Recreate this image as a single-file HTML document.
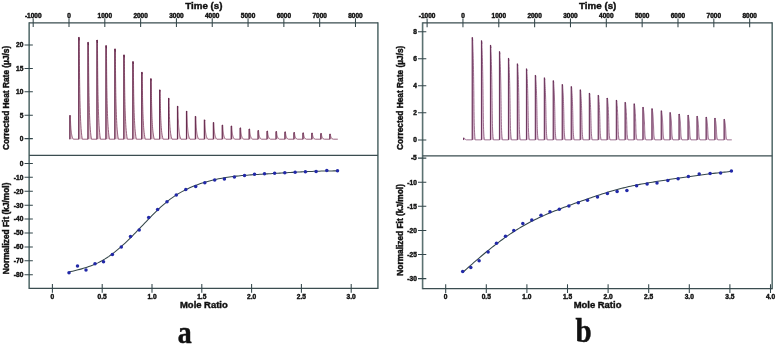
<!DOCTYPE html>
<html><head><meta charset="utf-8"><style>
html,body{margin:0;padding:0;background:#fff;}
body{width:779px;height:346px;overflow:hidden;}
svg{display:block;filter:blur(0.35px);}
text{font-family:"Liberation Sans", sans-serif;font-weight:bold;fill:#111;stroke:#111;stroke-width:0.42px;}
</style></head><body>
<svg width="779" height="346" viewBox="0 0 779 346">
<rect width="779" height="346" fill="#fff"/>
<path d="M29.15,22.15 L29.15,289.0 M377.9,22.15 L377.9,289.0" fill="none" stroke="#5b7171" stroke-width="1.6"/>
<path d="M29.15,22.75 L377.9,22.75 M29.15,155.4 L377.9,155.4 M29.15,288.4 L377.9,288.4" fill="none" stroke="#3b4d50" stroke-width="1.25"/>
<text x="33.19" y="18.30" font-size="6.5" text-anchor="middle" >-1000</text>
<text x="69.00" y="18.30" font-size="6.5" text-anchor="middle" >0</text>
<text x="104.81" y="18.30" font-size="6.5" text-anchor="middle" >1000</text>
<text x="140.62" y="18.30" font-size="6.5" text-anchor="middle" >2000</text>
<text x="176.43" y="18.30" font-size="6.5" text-anchor="middle" >3000</text>
<text x="212.24" y="18.30" font-size="6.5" text-anchor="middle" >4000</text>
<text x="248.05" y="18.30" font-size="6.5" text-anchor="middle" >5000</text>
<text x="283.86" y="18.30" font-size="6.5" text-anchor="middle" >6000</text>
<text x="319.67" y="18.30" font-size="6.5" text-anchor="middle" >7000</text>
<text x="355.48" y="18.30" font-size="6.5" text-anchor="middle" >8000</text>
<text x="23.35" y="140.95" font-size="6.6" text-anchor="end" >0</text>
<text x="23.35" y="117.55" font-size="6.6" text-anchor="end" >5</text>
<text x="23.35" y="94.15" font-size="6.6" text-anchor="end" >10</text>
<text x="23.35" y="70.75" font-size="6.6" text-anchor="end" >15</text>
<text x="23.35" y="47.35" font-size="6.6" text-anchor="end" >20</text>
<text x="23.35" y="165.75" font-size="6.6" text-anchor="end" >0</text>
<text x="23.35" y="179.67" font-size="6.6" text-anchor="end" >-10</text>
<text x="23.35" y="193.59" font-size="6.6" text-anchor="end" >-20</text>
<text x="23.35" y="207.51" font-size="6.6" text-anchor="end" >-30</text>
<text x="23.35" y="221.43" font-size="6.6" text-anchor="end" >-40</text>
<text x="23.35" y="235.35" font-size="6.6" text-anchor="end" >-50</text>
<text x="23.35" y="249.27" font-size="6.6" text-anchor="end" >-60</text>
<text x="23.35" y="263.19" font-size="6.6" text-anchor="end" >-70</text>
<text x="23.35" y="277.11" font-size="6.6" text-anchor="end" >-80</text>
<text x="52.40" y="298.60" font-size="6.6" text-anchor="middle" >0</text>
<text x="102.20" y="298.60" font-size="6.6" text-anchor="middle" >0.5</text>
<text x="152.00" y="298.60" font-size="6.6" text-anchor="middle" >1.0</text>
<text x="201.80" y="298.60" font-size="6.6" text-anchor="middle" >1.5</text>
<text x="251.60" y="298.60" font-size="6.6" text-anchor="middle" >2.0</text>
<text x="301.40" y="298.60" font-size="6.6" text-anchor="middle" >2.5</text>
<text x="351.20" y="298.60" font-size="6.6" text-anchor="middle" >3.0</text>
<path d="M33.19,18.35 L33.19,27.05 M69.00,18.35 L69.00,27.05 M104.81,18.35 L104.81,27.05 M140.62,18.35 L140.62,27.05 M176.43,18.35 L176.43,27.05 M212.24,18.35 L212.24,27.05 M248.05,18.35 L248.05,27.05 M283.86,18.35 L283.86,27.05 M319.67,18.35 L319.67,27.05 M355.48,18.35 L355.48,27.05 M24.549999999999997,138.60 L32.85,138.60 M24.549999999999997,115.20 L32.85,115.20 M24.549999999999997,91.80 L32.85,91.80 M24.549999999999997,68.40 L32.85,68.40 M24.549999999999997,45.00 L32.85,45.00 M24.549999999999997,163.40 L32.85,163.40 M24.549999999999997,177.32 L32.85,177.32 M24.549999999999997,191.24 L32.85,191.24 M24.549999999999997,205.16 L32.85,205.16 M24.549999999999997,219.08 L32.85,219.08 M24.549999999999997,233.00 L32.85,233.00 M24.549999999999997,246.92 L32.85,246.92 M24.549999999999997,260.84 L32.85,260.84 M24.549999999999997,274.76 L32.85,274.76 M52.40,284.09999999999997 L52.40,292.7 M102.20,284.09999999999997 L102.20,292.7 M152.00,284.09999999999997 L152.00,292.7 M201.80,284.09999999999997 L201.80,292.7 M251.60,284.09999999999997 L251.60,292.7 M301.40,284.09999999999997 L301.40,292.7 M351.20,284.09999999999997 L351.20,292.7" fill="none" stroke="#33464a" stroke-width="1.05"/>
<text x="185.30" y="9.10" font-size="9.75" text-anchor="start" >Time (s)</text>
<text x="180.00" y="307.70" font-size="9.45" text-anchor="start" >Mole Ratio</text>
<text x="0" y="0" font-size="8.33" text-anchor="middle" transform="translate(9.4,97.9) rotate(-90)">Corrected Heat Rate (µJ/s)</text>
<text x="0" y="0" font-size="8.33" text-anchor="middle" transform="translate(9.0,228.4) rotate(-90)">Normalized Fit (kJ/mol)</text>
<text x="0" y="0" style="font-family:'Liberation Serif', serif;font-weight:bold;font-size:31px;stroke-width:0.5px" transform="translate(177.8,342.8) scale(0.9,1)">a</text>
<path d="M69.65,139.20 L69.85,139.20 L69.85,115.50 L70.35,115.50 L70.37,116.32 L70.39,117.13 L70.41,117.95 L70.44,118.77 L70.46,119.59 L70.49,120.40 L70.52,121.22 L70.55,122.04 L70.58,122.86 L70.62,123.67 L70.66,124.49 L70.70,125.31 L70.75,126.12 L70.81,126.94 L70.87,127.76 L70.93,128.58 L71.01,129.39 L71.08,130.21 L71.17,131.03 L71.27,131.84 L71.37,132.66 L71.49,133.48 L71.63,134.30 L71.79,135.11 L71.98,135.93 L72.21,136.75 L72.50,137.57 L72.87,138.38 L73.35,139.20 L78.75,139.20 L78.75,37.30 L79.25,37.30 L79.27,40.81 L79.29,44.33 L79.31,47.84 L79.34,51.36 L79.36,54.87 L79.39,58.38 L79.42,61.90 L79.45,65.41 L79.48,68.92 L79.52,72.44 L79.56,75.95 L79.60,79.47 L79.65,82.98 L79.71,86.49 L79.77,90.01 L79.83,93.52 L79.91,97.03 L79.98,100.55 L80.07,104.06 L80.17,107.58 L80.27,111.09 L80.39,114.60 L80.53,118.12 L80.69,121.63 L80.88,125.14 L81.11,128.66 L81.40,132.17 L81.77,135.69 L82.25,139.20 L87.95,139.20 L87.95,42.30 L88.45,42.30 L88.47,45.64 L88.49,48.98 L88.51,52.32 L88.54,55.67 L88.56,59.01 L88.59,62.35 L88.62,65.69 L88.65,69.03 L88.68,72.37 L88.72,75.71 L88.76,79.06 L88.80,82.40 L88.85,85.74 L88.91,89.08 L88.97,92.42 L89.03,95.76 L89.11,99.10 L89.18,102.44 L89.27,105.79 L89.37,109.13 L89.47,112.47 L89.59,115.81 L89.73,119.15 L89.89,122.49 L90.08,125.83 L90.31,129.18 L90.60,132.52 L90.97,135.86 L91.45,139.20 L96.95,139.20 L96.95,40.00 L97.45,40.00 L97.47,43.42 L97.49,46.84 L97.51,50.26 L97.54,53.68 L97.56,57.10 L97.59,60.52 L97.62,63.94 L97.65,67.37 L97.68,70.79 L97.72,74.21 L97.76,77.63 L97.80,81.05 L97.85,84.47 L97.91,87.89 L97.97,91.31 L98.03,94.73 L98.11,98.15 L98.18,101.57 L98.27,104.99 L98.37,108.41 L98.47,111.83 L98.59,115.26 L98.73,118.68 L98.89,122.10 L99.08,125.52 L99.31,128.94 L99.60,132.36 L99.97,135.78 L100.45,139.20 L105.95,139.20 L105.95,45.60 L106.45,45.60 L106.47,48.83 L106.49,52.06 L106.51,55.28 L106.54,58.51 L106.56,61.74 L106.59,64.97 L106.62,68.19 L106.65,71.42 L106.68,74.65 L106.72,77.88 L106.76,81.10 L106.80,84.33 L106.85,87.56 L106.91,90.79 L106.97,94.01 L107.03,97.24 L107.11,100.47 L107.18,103.70 L107.27,106.92 L107.37,110.15 L107.47,113.38 L107.59,116.61 L107.73,119.83 L107.89,123.06 L108.08,126.29 L108.31,129.52 L108.60,132.74 L108.97,135.97 L109.45,139.20 L114.85,139.20 L114.85,48.90 L115.35,48.90 L115.37,52.01 L115.39,55.13 L115.41,58.24 L115.44,61.36 L115.46,64.47 L115.49,67.58 L115.52,70.70 L115.55,73.81 L115.58,76.92 L115.62,80.04 L115.66,83.15 L115.70,86.27 L115.75,89.38 L115.81,92.49 L115.87,95.61 L115.93,98.72 L116.01,101.83 L116.08,104.95 L116.17,108.06 L116.27,111.18 L116.37,114.29 L116.49,117.40 L116.63,120.52 L116.79,123.63 L116.98,126.74 L117.21,129.86 L117.50,132.97 L117.87,136.09 L118.35,139.20 L123.85,139.20 L123.85,54.90 L124.35,54.90 L124.37,57.81 L124.39,60.71 L124.41,63.62 L124.44,66.53 L124.46,69.43 L124.49,72.34 L124.52,75.25 L124.55,78.16 L124.58,81.06 L124.62,83.97 L124.66,86.88 L124.70,89.78 L124.75,92.69 L124.81,95.60 L124.87,98.50 L124.93,101.41 L125.01,104.32 L125.08,107.22 L125.17,110.13 L125.27,113.04 L125.37,115.94 L125.49,118.85 L125.63,121.76 L125.79,124.67 L125.98,127.57 L126.21,130.48 L126.50,133.39 L126.87,136.29 L127.35,139.20 L132.85,139.20 L132.85,61.60 L133.35,61.60 L133.37,64.28 L133.39,66.95 L133.41,69.63 L133.44,72.30 L133.46,74.98 L133.49,77.66 L133.52,80.33 L133.55,83.01 L133.58,85.68 L133.62,88.36 L133.66,91.03 L133.70,93.71 L133.75,96.39 L133.81,99.06 L133.87,101.74 L133.93,104.41 L134.01,107.09 L134.08,109.77 L134.17,112.44 L134.27,115.12 L134.37,117.79 L134.49,120.47 L134.63,123.14 L134.79,125.82 L134.98,128.50 L135.21,131.17 L135.50,133.85 L135.87,136.52 L136.35,139.20 L141.75,139.20 L141.75,72.20 L142.25,72.20 L142.27,74.51 L142.29,76.82 L142.31,79.13 L142.34,81.44 L142.36,83.75 L142.39,86.06 L142.42,88.37 L142.45,90.68 L142.48,92.99 L142.52,95.30 L142.56,97.61 L142.60,99.92 L142.65,102.23 L142.71,104.54 L142.77,106.86 L142.83,109.17 L142.91,111.48 L142.98,113.79 L143.07,116.10 L143.17,118.41 L143.27,120.72 L143.39,123.03 L143.53,125.34 L143.69,127.65 L143.88,129.96 L144.11,132.27 L144.40,134.58 L144.77,136.89 L145.25,139.20 L150.75,139.20 L150.75,78.70 L151.25,78.70 L151.27,80.79 L151.29,82.87 L151.31,84.96 L151.34,87.04 L151.36,89.13 L151.39,91.22 L151.42,93.30 L151.45,95.39 L151.48,97.48 L151.52,99.56 L151.56,101.65 L151.60,103.73 L151.65,105.82 L151.71,107.91 L151.77,109.99 L151.83,112.08 L151.91,114.17 L151.98,116.25 L152.07,118.34 L152.17,120.42 L152.27,122.51 L152.39,124.60 L152.53,126.68 L152.69,128.77 L152.88,130.86 L153.11,132.94 L153.40,135.03 L153.77,137.11 L154.25,139.20 L159.65,139.20 L159.65,89.90 L160.15,89.90 L160.17,91.60 L160.19,93.30 L160.21,95.00 L160.24,96.70 L160.26,98.40 L160.29,100.10 L160.32,101.80 L160.35,103.50 L160.38,105.20 L160.42,106.90 L160.46,108.60 L160.50,110.30 L160.55,112.00 L160.61,113.70 L160.67,115.40 L160.73,117.10 L160.81,118.80 L160.88,120.50 L160.97,122.20 L161.07,123.90 L161.17,125.60 L161.29,127.30 L161.43,129.00 L161.59,130.70 L161.78,132.40 L162.01,134.10 L162.30,135.80 L162.67,137.50 L163.15,139.20 L168.55,139.20 L168.55,98.20 L169.05,98.20 L169.07,99.61 L169.09,101.03 L169.11,102.44 L169.14,103.86 L169.16,105.27 L169.19,106.68 L169.22,108.10 L169.25,109.51 L169.28,110.92 L169.32,112.34 L169.36,113.75 L169.40,115.17 L169.45,116.58 L169.51,117.99 L169.57,119.41 L169.63,120.82 L169.71,122.23 L169.78,123.65 L169.87,125.06 L169.97,126.48 L170.07,127.89 L170.19,129.30 L170.33,130.72 L170.49,132.13 L170.68,133.54 L170.91,134.96 L171.20,136.37 L171.57,137.79 L172.05,139.20 L177.45,139.20 L177.45,106.20 L177.95,106.20 L177.97,107.34 L177.99,108.48 L178.01,109.61 L178.04,110.75 L178.06,111.89 L178.09,113.03 L178.12,114.17 L178.15,115.30 L178.18,116.44 L178.22,117.58 L178.26,118.72 L178.30,119.86 L178.35,120.99 L178.41,122.13 L178.47,123.27 L178.53,124.41 L178.61,125.54 L178.68,126.68 L178.77,127.82 L178.87,128.96 L178.97,130.10 L179.09,131.23 L179.23,132.37 L179.39,133.51 L179.58,134.65 L179.81,135.79 L180.10,136.92 L180.47,138.06 L180.95,139.20 L186.45,139.20 L186.45,111.20 L186.95,111.20 L186.97,112.17 L186.99,113.13 L187.01,114.10 L187.04,115.06 L187.06,116.03 L187.09,116.99 L187.12,117.96 L187.15,118.92 L187.18,119.89 L187.22,120.86 L187.26,121.82 L187.30,122.79 L187.35,123.75 L187.41,124.72 L187.47,125.68 L187.53,126.65 L187.61,127.61 L187.68,128.58 L187.77,129.54 L187.87,130.51 L187.97,131.48 L188.09,132.44 L188.23,133.41 L188.39,134.37 L188.58,135.34 L188.81,136.30 L189.10,137.27 L189.47,138.23 L189.95,139.20 L195.35,139.20 L195.35,116.40 L195.85,116.40 L195.87,117.19 L195.89,117.97 L195.91,118.76 L195.94,119.54 L195.96,120.33 L195.99,121.12 L196.02,121.90 L196.05,122.69 L196.08,123.48 L196.12,124.26 L196.16,125.05 L196.20,125.83 L196.25,126.62 L196.31,127.41 L196.37,128.19 L196.43,128.98 L196.51,129.77 L196.58,130.55 L196.67,131.34 L196.77,132.12 L196.87,132.91 L196.99,133.70 L197.13,134.48 L197.29,135.27 L197.48,136.06 L197.71,136.84 L198.00,137.63 L198.37,138.41 L198.85,139.20 L204.35,139.20 L204.35,119.90 L204.85,119.90 L204.87,120.57 L204.89,121.23 L204.91,121.90 L204.94,122.56 L204.96,123.23 L204.99,123.89 L205.02,124.56 L205.05,125.22 L205.08,125.89 L205.12,126.56 L205.16,127.22 L205.20,127.89 L205.25,128.55 L205.31,129.22 L205.37,129.88 L205.43,130.55 L205.51,131.21 L205.58,131.88 L205.67,132.54 L205.77,133.21 L205.87,133.88 L205.99,134.54 L206.13,135.21 L206.29,135.87 L206.48,136.54 L206.71,137.20 L207.00,137.87 L207.37,138.53 L207.85,139.20 L213.35,139.20 L213.35,122.50 L213.85,122.50 L213.87,123.08 L213.89,123.65 L213.91,124.23 L213.94,124.80 L213.96,125.38 L213.99,125.96 L214.02,126.53 L214.05,127.11 L214.08,127.68 L214.12,128.26 L214.16,128.83 L214.20,129.41 L214.25,129.99 L214.31,130.56 L214.37,131.14 L214.43,131.71 L214.51,132.29 L214.58,132.87 L214.67,133.44 L214.77,134.02 L214.87,134.59 L214.99,135.17 L215.13,135.74 L215.29,136.32 L215.48,136.90 L215.71,137.47 L216.00,138.05 L216.37,138.62 L216.85,139.20 L222.25,139.20 L222.25,125.10 L222.75,125.10 L222.77,125.59 L222.79,126.07 L222.81,126.56 L222.84,127.04 L222.86,127.53 L222.89,128.02 L222.92,128.50 L222.95,128.99 L222.98,129.48 L223.02,129.96 L223.06,130.45 L223.10,130.93 L223.15,131.42 L223.21,131.91 L223.27,132.39 L223.33,132.88 L223.41,133.37 L223.48,133.85 L223.57,134.34 L223.67,134.82 L223.77,135.31 L223.89,135.80 L224.03,136.28 L224.19,136.77 L224.38,137.26 L224.61,137.74 L224.90,138.23 L225.27,138.71 L225.75,139.20 L231.25,139.20 L231.25,126.00 L231.75,126.00 L231.77,126.46 L231.79,126.91 L231.81,127.37 L231.84,127.82 L231.86,128.28 L231.89,128.73 L231.92,129.19 L231.95,129.64 L231.98,130.10 L232.02,130.55 L232.06,131.01 L232.10,131.46 L232.15,131.92 L232.21,132.37 L232.27,132.83 L232.33,133.28 L232.41,133.74 L232.48,134.19 L232.57,134.65 L232.67,135.10 L232.77,135.56 L232.89,136.01 L233.03,136.47 L233.19,136.92 L233.38,137.38 L233.61,137.83 L233.90,138.29 L234.27,138.74 L234.75,139.20 L240.15,139.20 L240.15,127.90 L240.65,127.90 L240.67,128.29 L240.69,128.68 L240.71,129.07 L240.74,129.46 L240.76,129.85 L240.79,130.24 L240.82,130.63 L240.85,131.02 L240.88,131.41 L240.92,131.80 L240.96,132.19 L241.00,132.58 L241.05,132.97 L241.11,133.36 L241.17,133.74 L241.23,134.13 L241.31,134.52 L241.38,134.91 L241.47,135.30 L241.57,135.69 L241.67,136.08 L241.79,136.47 L241.93,136.86 L242.09,137.25 L242.28,137.64 L242.51,138.03 L242.80,138.42 L243.17,138.81 L243.65,139.20 L249.15,139.20 L249.15,129.00 L249.65,129.00 L249.67,129.35 L249.69,129.70 L249.71,130.06 L249.74,130.41 L249.76,130.76 L249.79,131.11 L249.82,131.46 L249.85,131.81 L249.88,132.17 L249.92,132.52 L249.96,132.87 L250.00,133.22 L250.05,133.57 L250.11,133.92 L250.17,134.28 L250.23,134.63 L250.31,134.98 L250.38,135.33 L250.47,135.68 L250.57,136.03 L250.67,136.39 L250.79,136.74 L250.93,137.09 L251.09,137.44 L251.28,137.79 L251.51,138.14 L251.80,138.50 L252.17,138.85 L252.65,139.20 L258.05,139.20 L258.05,130.50 L258.55,130.50 L258.57,130.80 L258.59,131.10 L258.61,131.40 L258.64,131.70 L258.66,132.00 L258.69,132.30 L258.72,132.60 L258.75,132.90 L258.78,133.20 L258.82,133.50 L258.86,133.80 L258.90,134.10 L258.95,134.40 L259.01,134.70 L259.07,135.00 L259.13,135.30 L259.21,135.60 L259.28,135.90 L259.37,136.20 L259.47,136.50 L259.57,136.80 L259.69,137.10 L259.83,137.40 L259.99,137.70 L260.18,138.00 L260.41,138.30 L260.70,138.60 L261.07,138.90 L261.55,139.20 L267.05,139.20 L267.05,131.10 L267.55,131.10 L267.57,131.38 L267.59,131.66 L267.61,131.94 L267.64,132.22 L267.66,132.50 L267.69,132.78 L267.72,133.06 L267.75,133.33 L267.78,133.61 L267.82,133.89 L267.86,134.17 L267.90,134.45 L267.95,134.73 L268.01,135.01 L268.07,135.29 L268.13,135.57 L268.21,135.85 L268.28,136.13 L268.37,136.41 L268.47,136.69 L268.57,136.97 L268.69,137.24 L268.83,137.52 L268.99,137.80 L269.18,138.08 L269.41,138.36 L269.70,138.64 L270.07,138.92 L270.55,139.20 L276.05,139.20 L276.05,131.50 L276.55,131.50 L276.57,131.77 L276.59,132.03 L276.61,132.30 L276.64,132.56 L276.66,132.83 L276.69,133.09 L276.72,133.36 L276.75,133.62 L276.78,133.89 L276.82,134.16 L276.86,134.42 L276.90,134.69 L276.95,134.95 L277.01,135.22 L277.07,135.48 L277.13,135.75 L277.21,136.01 L277.28,136.28 L277.37,136.54 L277.47,136.81 L277.57,137.08 L277.69,137.34 L277.83,137.61 L277.99,137.87 L278.18,138.14 L278.41,138.40 L278.70,138.67 L279.07,138.93 L279.55,139.20 L284.95,139.20 L284.95,131.90 L285.45,131.90 L285.47,132.15 L285.49,132.40 L285.51,132.66 L285.54,132.91 L285.56,133.16 L285.59,133.41 L285.62,133.66 L285.65,133.91 L285.68,134.17 L285.72,134.42 L285.76,134.67 L285.80,134.92 L285.85,135.17 L285.91,135.42 L285.97,135.68 L286.03,135.93 L286.11,136.18 L286.18,136.43 L286.27,136.68 L286.37,136.93 L286.47,137.19 L286.59,137.44 L286.73,137.69 L286.89,137.94 L287.08,138.19 L287.31,138.44 L287.60,138.70 L287.97,138.95 L288.45,139.20 L293.95,139.20 L293.95,132.50 L294.45,132.50 L294.47,132.73 L294.49,132.96 L294.51,133.19 L294.54,133.42 L294.56,133.66 L294.59,133.89 L294.62,134.12 L294.65,134.35 L294.68,134.58 L294.72,134.81 L294.76,135.04 L294.80,135.27 L294.85,135.50 L294.91,135.73 L294.97,135.97 L295.03,136.20 L295.11,136.43 L295.18,136.66 L295.27,136.89 L295.37,137.12 L295.47,137.35 L295.59,137.58 L295.73,137.81 L295.89,138.04 L296.08,138.28 L296.31,138.51 L296.60,138.74 L296.97,138.97 L297.45,139.20 L302.95,139.20 L302.95,132.90 L303.45,132.90 L303.47,133.12 L303.49,133.33 L303.51,133.55 L303.54,133.77 L303.56,133.99 L303.59,134.20 L303.62,134.42 L303.65,134.64 L303.68,134.86 L303.72,135.07 L303.76,135.29 L303.80,135.51 L303.85,135.72 L303.91,135.94 L303.97,136.16 L304.03,136.38 L304.11,136.59 L304.18,136.81 L304.27,137.03 L304.37,137.24 L304.47,137.46 L304.59,137.68 L304.73,137.90 L304.89,138.11 L305.08,138.33 L305.31,138.55 L305.60,138.77 L305.97,138.98 L306.45,139.20 L311.85,139.20 L311.85,133.10 L312.35,133.10 L312.37,133.31 L312.39,133.52 L312.41,133.73 L312.44,133.94 L312.46,134.15 L312.49,134.36 L312.52,134.57 L312.55,134.78 L312.58,134.99 L312.62,135.20 L312.66,135.41 L312.70,135.62 L312.75,135.83 L312.81,136.04 L312.87,136.26 L312.93,136.47 L313.01,136.68 L313.08,136.89 L313.17,137.10 L313.27,137.31 L313.37,137.52 L313.49,137.73 L313.63,137.94 L313.79,138.15 L313.98,138.36 L314.21,138.57 L314.50,138.78 L314.87,138.99 L315.35,139.20 L320.85,139.20 L320.85,133.50 L321.35,133.50 L321.37,133.70 L321.39,133.89 L321.41,134.09 L321.44,134.29 L321.46,134.48 L321.49,134.68 L321.52,134.88 L321.55,135.07 L321.58,135.27 L321.62,135.47 L321.66,135.66 L321.70,135.86 L321.75,136.06 L321.81,136.25 L321.87,136.45 L321.93,136.64 L322.01,136.84 L322.08,137.04 L322.17,137.23 L322.27,137.43 L322.37,137.63 L322.49,137.82 L322.63,138.02 L322.79,138.22 L322.98,138.41 L323.21,138.61 L323.50,138.81 L323.87,139.00 L324.35,139.20 L329.85,139.20 L329.85,134.10 L330.35,134.10 L330.37,134.28 L330.39,134.45 L330.41,134.63 L330.44,134.80 L330.46,134.98 L330.49,135.16 L330.52,135.33 L330.55,135.51 L330.58,135.68 L330.62,135.86 L330.66,136.03 L330.70,136.21 L330.75,136.39 L330.81,136.56 L330.87,136.74 L330.93,136.91 L331.01,137.09 L331.08,137.27 L331.17,137.44 L331.27,137.62 L331.37,137.79 L331.49,137.97 L331.63,138.14 L331.79,138.32 L331.98,138.50 L332.21,138.67 L332.50,138.85 L332.87,139.02 L333.35,139.20 L337.80,139.20" fill="#dfc3cf" stroke="#8a4a6c" stroke-width="0.85" stroke-linejoin="round"/>
<path d="M69.85,139.20 L69.85,115.50 L70.37,116.21 M78.75,139.20 L78.75,37.30 L79.27,40.36 M87.95,139.20 L87.95,42.30 L88.47,45.21 M96.95,139.20 L96.95,40.00 L97.47,42.98 M105.95,139.20 L105.95,45.60 L106.47,48.41 M114.85,139.20 L114.85,48.90 L115.37,51.61 M123.85,139.20 L123.85,54.90 L124.37,57.43 M132.85,139.20 L132.85,61.60 L133.37,63.93 M141.75,139.20 L141.75,72.20 L142.27,74.21 M150.75,139.20 L150.75,78.70 L151.27,80.52 M159.65,139.20 L159.65,89.90 L160.17,91.38 M168.55,139.20 L168.55,98.20 L169.07,99.43 M177.45,139.20 L177.45,106.20 L177.97,107.19 M186.45,139.20 L186.45,111.20 L186.97,112.04 M195.35,139.20 L195.35,116.40 L195.87,117.08 M204.35,139.20 L204.35,119.90 L204.87,120.48 M213.35,139.20 L213.35,122.50 L213.87,123.00 M222.25,139.20 L222.25,125.10 L222.77,125.52 M231.25,139.20 L231.25,126.00 L231.77,126.40 M240.15,139.20 L240.15,127.90 L240.67,128.24 M249.15,139.20 L249.15,129.00 L249.67,129.31 M258.05,139.20 L258.05,130.50 L258.57,130.76 M267.05,139.20 L267.05,131.10 L267.57,131.34 M276.05,139.20 L276.05,131.50 L276.57,131.73 M284.95,139.20 L284.95,131.90 L285.47,132.12 M293.95,139.20 L293.95,132.50 L294.47,132.70 M302.95,139.20 L302.95,132.90 L303.47,133.09 M311.85,139.20 L311.85,133.10 L312.37,133.28 M320.85,139.20 L320.85,133.50 L321.37,133.67 M329.85,139.20 L329.85,134.10 L330.37,134.25" fill="none" stroke="#5e2246" stroke-width="0.9" stroke-linejoin="round"/>
<path d="M69.00,271.99 L70.80,271.58 L72.60,271.17 L74.40,270.74 L76.21,270.31 L78.01,269.85 L79.81,269.38 L81.61,268.88 L83.41,268.36 L85.21,267.81 L87.01,267.23 L88.81,266.61 L90.62,265.95 L92.42,265.25 L94.22,264.50 L96.02,263.71 L97.82,262.87 L99.62,261.97 L101.42,261.02 L103.23,260.00 L105.03,258.92 L106.83,257.78 L108.63,256.57 L110.43,255.30 L112.23,253.98 L114.03,252.60 L115.83,251.17 L117.64,249.68 L119.44,248.15 L121.24,246.58 L123.04,244.95 L124.84,243.29 L126.64,241.59 L128.44,239.85 L130.25,238.08 L132.05,236.28 L133.85,234.45 L135.65,232.60 L137.45,230.73 L139.25,228.84 L141.05,226.95 L142.86,225.06 L144.66,223.17 L146.46,221.28 L148.26,219.40 L150.06,217.54 L151.86,215.70 L153.66,213.88 L155.46,212.10 L157.27,210.35 L159.07,208.64 L160.87,206.97 L162.67,205.35 L164.47,203.78 L166.27,202.28 L168.07,200.83 L169.88,199.45 L171.68,198.13 L173.48,196.87 L175.28,195.67 L177.08,194.52 L178.88,193.42 L180.68,192.37 L182.48,191.38 L184.29,190.42 L186.09,189.52 L187.89,188.65 L189.69,187.83 L191.49,187.04 L193.29,186.29 L195.09,185.58 L196.90,184.89 L198.70,184.24 L200.50,183.62 L202.30,183.02 L204.10,182.46 L205.90,181.92 L207.70,181.41 L209.50,180.92 L211.31,180.46 L213.11,180.02 L214.91,179.61 L216.71,179.21 L218.51,178.84 L220.31,178.49 L222.11,178.16 L223.92,177.85 L225.72,177.56 L227.52,177.28 L229.32,177.03 L231.12,176.78 L232.92,176.55 L234.72,176.34 L236.52,176.14 L238.33,175.95 L240.13,175.77 L241.93,175.60 L243.73,175.44 L245.53,175.29 L247.33,175.15 L249.13,175.02 L250.94,174.89 L252.74,174.77 L254.54,174.65 L256.34,174.53 L258.14,174.42 L259.94,174.31 L261.74,174.21 L263.54,174.10 L265.35,173.99 L267.15,173.88 L268.95,173.77 L270.75,173.66 L272.55,173.55 L274.35,173.44 L276.15,173.33 L277.96,173.22 L279.76,173.11 L281.56,173.00 L283.36,172.89 L285.16,172.78 L286.96,172.68 L288.76,172.57 L290.57,172.47 L292.37,172.36 L294.17,172.26 L295.97,172.17 L297.77,172.07 L299.57,171.97 L301.37,171.88 L303.17,171.79 L304.98,171.71 L306.78,171.63 L308.58,171.55 L310.38,171.47 L312.18,171.40 L313.98,171.33 L315.78,171.27 L317.59,171.21 L319.39,171.15 L321.19,171.10 L322.99,171.05 L324.79,171.01 L326.59,170.97 L328.39,170.94 L330.19,170.92 L332.00,170.90 L333.80,170.88 L335.60,170.88 L337.40,170.87" fill="none" stroke="#34464a" stroke-width="1.05"/>
<g fill="#2229a8"><circle cx="69.0" cy="272.7" r="1.75"/><circle cx="77.5" cy="266.0" r="1.75"/><circle cx="86.0" cy="270.0" r="1.75"/><circle cx="95.0" cy="263.7" r="1.75"/><circle cx="103.5" cy="261.7" r="1.75"/><circle cx="112.4" cy="254.4" r="1.75"/><circle cx="121.3" cy="247.1" r="1.75"/><circle cx="130.5" cy="236.4" r="1.75"/><circle cx="139.2" cy="229.9" r="1.75"/><circle cx="148.7" cy="217.4" r="1.75"/><circle cx="157.6" cy="209.4" r="1.75"/><circle cx="167.0" cy="201.7" r="1.75"/><circle cx="176.3" cy="195.0" r="1.75"/><circle cx="185.8" cy="189.6" r="1.75"/><circle cx="195.7" cy="186.4" r="1.75"/><circle cx="204.8" cy="182.7" r="1.75"/><circle cx="214.7" cy="179.9" r="1.75"/><circle cx="224.4" cy="179.0" r="1.75"/><circle cx="234.4" cy="177.1" r="1.75"/><circle cx="244.5" cy="175.5" r="1.75"/><circle cx="254.5" cy="174.2" r="1.75"/><circle cx="264.5" cy="173.8" r="1.75"/><circle cx="274.6" cy="173.3" r="1.75"/><circle cx="284.8" cy="172.7" r="1.75"/><circle cx="295.1" cy="172.2" r="1.75"/><circle cx="305.4" cy="171.8" r="1.75"/><circle cx="316.1" cy="171.4" r="1.75"/><circle cx="326.8" cy="170.5" r="1.75"/><circle cx="337.5" cy="170.7" r="1.75"/></g>
<path d="M422.6,22.349999999999998 L422.6,289.20000000000005 M772.2,22.349999999999998 L772.2,289.20000000000005" fill="none" stroke="#5b7171" stroke-width="1.6"/>
<path d="M422.6,22.95 L772.2,22.95 M422.6,155.85 L772.2,155.85 M422.6,288.6 L772.2,288.6" fill="none" stroke="#3b4d50" stroke-width="1.25"/>
<text x="427.11" y="18.30" font-size="6.5" text-anchor="middle" >-1000</text>
<text x="462.95" y="18.30" font-size="6.5" text-anchor="middle" >0</text>
<text x="498.79" y="18.30" font-size="6.5" text-anchor="middle" >1000</text>
<text x="534.63" y="18.30" font-size="6.5" text-anchor="middle" >2000</text>
<text x="570.47" y="18.30" font-size="6.5" text-anchor="middle" >3000</text>
<text x="606.31" y="18.30" font-size="6.5" text-anchor="middle" >4000</text>
<text x="642.15" y="18.30" font-size="6.5" text-anchor="middle" >5000</text>
<text x="677.99" y="18.30" font-size="6.5" text-anchor="middle" >6000</text>
<text x="713.83" y="18.30" font-size="6.5" text-anchor="middle" >7000</text>
<text x="749.67" y="18.30" font-size="6.5" text-anchor="middle" >8000</text>
<text x="416.80" y="142.25" font-size="6.6" text-anchor="end" >0</text>
<text x="416.80" y="115.19" font-size="6.6" text-anchor="end" >2</text>
<text x="416.80" y="88.13" font-size="6.6" text-anchor="end" >4</text>
<text x="416.80" y="61.07" font-size="6.6" text-anchor="end" >6</text>
<text x="416.80" y="34.01" font-size="6.6" text-anchor="end" >8</text>
<text x="416.80" y="160.45" font-size="6.6" text-anchor="end" >-5</text>
<text x="416.80" y="184.55" font-size="6.6" text-anchor="end" >-10</text>
<text x="416.80" y="208.65" font-size="6.6" text-anchor="end" >-15</text>
<text x="416.80" y="232.75" font-size="6.6" text-anchor="end" >-20</text>
<text x="416.80" y="256.85" font-size="6.6" text-anchor="end" >-25</text>
<text x="416.80" y="280.95" font-size="6.6" text-anchor="end" >-30</text>
<text x="445.70" y="299.20" font-size="6.6" text-anchor="middle" >0</text>
<text x="486.30" y="299.20" font-size="6.6" text-anchor="middle" >0.5</text>
<text x="526.90" y="299.20" font-size="6.6" text-anchor="middle" >1.0</text>
<text x="567.50" y="299.20" font-size="6.6" text-anchor="middle" >1.5</text>
<text x="608.10" y="299.20" font-size="6.6" text-anchor="middle" >2.0</text>
<text x="648.70" y="299.20" font-size="6.6" text-anchor="middle" >2.5</text>
<text x="689.30" y="299.20" font-size="6.6" text-anchor="middle" >3.0</text>
<text x="729.90" y="299.20" font-size="6.6" text-anchor="middle" >3.5</text>
<text x="770.50" y="299.20" font-size="6.6" text-anchor="middle" >4.0</text>
<path d="M427.11,18.549999999999997 L427.11,27.25 M462.95,18.549999999999997 L462.95,27.25 M498.79,18.549999999999997 L498.79,27.25 M534.63,18.549999999999997 L534.63,27.25 M570.47,18.549999999999997 L570.47,27.25 M606.31,18.549999999999997 L606.31,27.25 M642.15,18.549999999999997 L642.15,27.25 M677.99,18.549999999999997 L677.99,27.25 M713.83,18.549999999999997 L713.83,27.25 M749.67,18.549999999999997 L749.67,27.25 M418.0,139.90 L426.3,139.90 M418.0,112.84 L426.3,112.84 M418.0,85.78 L426.3,85.78 M418.0,58.72 L426.3,58.72 M418.0,31.66 L426.3,31.66 M418.0,158.10 L426.3,158.10 M418.0,182.20 L426.3,182.20 M418.0,206.30 L426.3,206.30 M418.0,230.40 L426.3,230.40 M418.0,254.50 L426.3,254.50 M418.0,278.60 L426.3,278.60 M445.70,284.3 L445.70,292.90000000000003 M486.30,284.3 L486.30,292.90000000000003 M526.90,284.3 L526.90,292.90000000000003 M567.50,284.3 L567.50,292.90000000000003 M608.10,284.3 L608.10,292.90000000000003 M648.70,284.3 L648.70,292.90000000000003 M689.30,284.3 L689.30,292.90000000000003 M729.90,284.3 L729.90,292.90000000000003 M770.50,284.3 L770.50,292.90000000000003" fill="none" stroke="#33464a" stroke-width="1.05"/>
<text x="579.10" y="9.10" font-size="9.75" text-anchor="start" >Time (s)</text>
<text x="573.70" y="307.70" font-size="9.45" text-anchor="start" >Mole Ratio</text>
<text x="0" y="0" font-size="8.33" text-anchor="middle" transform="translate(403.2,97.8) rotate(-90)">Corrected Heat Rate (µJ/s)</text>
<text x="0" y="0" font-size="8.33" text-anchor="middle" transform="translate(403.2,229.9) rotate(-90)">Normalized Fit (kJ/mol)</text>
<text x="0" y="0" style="font-family:'Liberation Serif', serif;font-weight:bold;font-size:33px;stroke-width:0.5px" transform="translate(575.6,342.1) scale(0.88,1)">b</text>
<path d="M463.35,139.85 L463.55,139.85 L463.55,138.00 L463.85,138.00 L464.00,138.06 L464.13,138.13 L464.25,138.19 L464.36,138.26 L464.47,138.32 L464.56,138.38 L464.65,138.45 L464.72,138.51 L464.79,138.57 L464.86,138.64 L464.92,138.70 L464.97,138.77 L465.03,138.83 L465.07,138.89 L465.12,138.96 L465.16,139.02 L465.19,139.08 L465.23,139.15 L465.27,139.21 L465.30,139.28 L465.34,139.34 L465.39,139.40 L465.44,139.47 L465.50,139.53 L465.59,139.59 L465.71,139.66 L465.88,139.72 L466.11,139.79 L466.45,139.85 L472.25,139.85 L472.25,37.50 L472.55,37.50 L472.70,41.03 L472.83,44.56 L472.95,48.09 L473.06,51.62 L473.17,55.15 L473.26,58.68 L473.35,62.21 L473.42,65.73 L473.49,69.26 L473.56,72.79 L473.62,76.32 L473.67,79.85 L473.73,83.38 L473.77,86.91 L473.82,90.44 L473.86,93.97 L473.89,97.50 L473.93,101.03 L473.97,104.56 L474.00,108.09 L474.04,111.62 L474.09,115.14 L474.14,118.67 L474.20,122.20 L474.29,125.73 L474.41,129.26 L474.58,132.79 L474.81,136.32 L475.15,139.85 L481.45,139.85 L481.45,40.70 L481.75,40.70 L481.90,44.12 L482.03,47.54 L482.15,50.96 L482.26,54.38 L482.37,57.79 L482.46,61.21 L482.55,64.63 L482.62,68.05 L482.69,71.47 L482.76,74.89 L482.82,78.31 L482.87,81.73 L482.93,85.15 L482.97,88.57 L483.02,91.98 L483.06,95.40 L483.09,98.82 L483.13,102.24 L483.17,105.66 L483.20,109.08 L483.24,112.50 L483.29,115.92 L483.34,119.34 L483.40,122.76 L483.49,126.17 L483.61,129.59 L483.78,133.01 L484.01,136.43 L484.35,139.85 L490.45,139.85 L490.45,45.10 L490.75,45.10 L490.90,48.37 L491.03,51.63 L491.15,54.90 L491.26,58.17 L491.37,61.44 L491.46,64.70 L491.55,67.97 L491.62,71.24 L491.69,74.51 L491.76,77.77 L491.82,81.04 L491.87,84.31 L491.93,87.57 L491.97,90.84 L492.02,94.11 L492.06,97.38 L492.09,100.64 L492.13,103.91 L492.17,107.18 L492.20,110.44 L492.24,113.71 L492.29,116.98 L492.34,120.25 L492.40,123.51 L492.49,126.78 L492.61,130.05 L492.78,133.32 L493.01,136.58 L493.35,139.85 L499.45,139.85 L499.45,51.60 L499.75,51.60 L499.90,54.64 L500.03,57.69 L500.15,60.73 L500.26,63.77 L500.37,66.82 L500.46,69.86 L500.55,72.90 L500.62,75.94 L500.69,78.99 L500.76,82.03 L500.82,85.07 L500.87,88.12 L500.93,91.16 L500.97,94.20 L501.02,97.25 L501.06,100.29 L501.09,103.33 L501.13,106.38 L501.17,109.42 L501.20,112.46 L501.24,115.51 L501.29,118.55 L501.34,121.59 L501.40,124.63 L501.49,127.68 L501.61,130.72 L501.78,133.76 L502.01,136.81 L502.35,139.85 L508.45,139.85 L508.45,58.20 L508.75,58.20 L508.90,61.02 L509.03,63.83 L509.15,66.65 L509.26,69.46 L509.37,72.28 L509.46,75.09 L509.55,77.91 L509.62,80.72 L509.69,83.54 L509.76,86.36 L509.82,89.17 L509.87,91.99 L509.93,94.80 L509.97,97.62 L510.02,100.43 L510.06,103.25 L510.09,106.06 L510.13,108.88 L510.17,111.69 L510.20,114.51 L510.24,117.33 L510.29,120.14 L510.34,122.96 L510.40,125.77 L510.49,128.59 L510.61,131.40 L510.78,134.22 L511.01,137.03 L511.35,139.85 L517.35,139.85 L517.35,63.80 L517.65,63.80 L517.80,66.42 L517.93,69.04 L518.05,71.67 L518.16,74.29 L518.27,76.91 L518.36,79.53 L518.45,82.16 L518.52,84.78 L518.59,87.40 L518.66,90.02 L518.72,92.65 L518.77,95.27 L518.83,97.89 L518.87,100.51 L518.92,103.14 L518.96,105.76 L518.99,108.38 L519.03,111.00 L519.07,113.63 L519.10,116.25 L519.14,118.87 L519.19,121.49 L519.24,124.12 L519.30,126.74 L519.39,129.36 L519.51,131.98 L519.68,134.61 L519.91,137.23 L520.25,139.85 L526.45,139.85 L526.45,68.80 L526.75,68.80 L526.90,71.25 L527.03,73.70 L527.15,76.15 L527.26,78.60 L527.37,81.05 L527.46,83.50 L527.55,85.95 L527.62,88.40 L527.69,90.85 L527.76,93.30 L527.82,95.75 L527.87,98.20 L527.93,100.65 L527.97,103.10 L528.02,105.55 L528.06,108.00 L528.09,110.45 L528.13,112.90 L528.17,115.35 L528.20,117.80 L528.24,120.25 L528.29,122.70 L528.34,125.15 L528.40,127.60 L528.49,130.05 L528.61,132.50 L528.78,134.95 L529.01,137.40 L529.35,139.85 L535.35,139.85 L535.35,75.30 L535.65,75.30 L535.80,77.53 L535.93,79.75 L536.05,81.98 L536.16,84.20 L536.27,86.43 L536.36,88.66 L536.45,90.88 L536.52,93.11 L536.59,95.33 L536.66,97.56 L536.72,99.78 L536.77,102.01 L536.83,104.24 L536.87,106.46 L536.92,108.69 L536.96,110.91 L536.99,113.14 L537.03,115.37 L537.07,117.59 L537.10,119.82 L537.14,122.04 L537.19,124.27 L537.24,126.49 L537.30,128.72 L537.39,130.95 L537.51,133.17 L537.68,135.40 L537.91,137.62 L538.25,139.85 L544.35,139.85 L544.35,77.80 L544.65,77.80 L544.80,79.94 L544.93,82.08 L545.05,84.22 L545.16,86.36 L545.27,88.50 L545.36,90.64 L545.45,92.78 L545.52,94.92 L545.59,97.06 L545.66,99.20 L545.72,101.34 L545.77,103.48 L545.83,105.62 L545.87,107.76 L545.92,109.89 L545.96,112.03 L545.99,114.17 L546.03,116.31 L546.07,118.45 L546.10,120.59 L546.14,122.73 L546.19,124.87 L546.24,127.01 L546.30,129.15 L546.39,131.29 L546.51,133.43 L546.68,135.57 L546.91,137.71 L547.25,139.85 L553.25,139.85 L553.25,80.70 L553.55,80.70 L553.70,82.74 L553.83,84.78 L553.95,86.82 L554.06,88.86 L554.17,90.90 L554.26,92.94 L554.35,94.98 L554.42,97.02 L554.49,99.06 L554.56,101.10 L554.62,103.14 L554.67,105.18 L554.73,107.22 L554.77,109.26 L554.82,111.29 L554.86,113.33 L554.89,115.37 L554.93,117.41 L554.97,119.45 L555.00,121.49 L555.04,123.53 L555.09,125.57 L555.14,127.61 L555.20,129.65 L555.29,131.69 L555.41,133.73 L555.58,135.77 L555.81,137.81 L556.15,139.85 L562.25,139.85 L562.25,84.50 L562.55,84.50 L562.70,86.41 L562.83,88.32 L562.95,90.23 L563.06,92.13 L563.17,94.04 L563.26,95.95 L563.35,97.86 L563.42,99.77 L563.49,101.68 L563.56,103.59 L563.62,105.49 L563.67,107.40 L563.73,109.31 L563.77,111.22 L563.82,113.13 L563.86,115.04 L563.89,116.95 L563.93,118.86 L563.97,120.76 L564.00,122.67 L564.04,124.58 L564.09,126.49 L564.14,128.40 L564.20,130.31 L564.29,132.22 L564.41,134.12 L564.58,136.03 L564.81,137.94 L565.15,139.85 L571.25,139.85 L571.25,86.60 L571.55,86.60 L571.70,88.44 L571.83,90.27 L571.95,92.11 L572.06,93.94 L572.17,95.78 L572.26,97.62 L572.35,99.45 L572.42,101.29 L572.49,103.13 L572.56,104.96 L572.62,106.80 L572.67,108.63 L572.73,110.47 L572.77,112.31 L572.82,114.14 L572.86,115.98 L572.89,117.82 L572.93,119.65 L572.97,121.49 L573.00,123.32 L573.04,125.16 L573.09,127.00 L573.14,128.83 L573.20,130.67 L573.29,132.51 L573.41,134.34 L573.58,136.18 L573.81,138.01 L574.15,139.85 L580.25,139.85 L580.25,89.80 L580.55,89.80 L580.70,91.53 L580.83,93.25 L580.95,94.98 L581.06,96.70 L581.17,98.43 L581.26,100.16 L581.35,101.88 L581.42,103.61 L581.49,105.33 L581.56,107.06 L581.62,108.78 L581.67,110.51 L581.73,112.24 L581.77,113.96 L581.82,115.69 L581.86,117.41 L581.89,119.14 L581.93,120.87 L581.97,122.59 L582.00,124.32 L582.04,126.04 L582.09,127.77 L582.14,129.49 L582.20,131.22 L582.29,132.95 L582.41,134.67 L582.58,136.40 L582.81,138.12 L583.15,139.85 L589.35,139.85 L589.35,93.10 L589.65,93.10 L589.80,94.71 L589.93,96.32 L590.05,97.94 L590.16,99.55 L590.27,101.16 L590.36,102.77 L590.45,104.38 L590.52,106.00 L590.59,107.61 L590.66,109.22 L590.72,110.83 L590.77,112.44 L590.83,114.06 L590.87,115.67 L590.92,117.28 L590.96,118.89 L590.99,120.51 L591.03,122.12 L591.07,123.73 L591.10,125.34 L591.14,126.95 L591.19,128.57 L591.24,130.18 L591.30,131.79 L591.39,133.40 L591.51,135.01 L591.68,136.63 L591.91,138.24 L592.25,139.85 L598.25,139.85 L598.25,95.30 L598.55,95.30 L598.70,96.84 L598.83,98.37 L598.95,99.91 L599.06,101.44 L599.17,102.98 L599.26,104.52 L599.35,106.05 L599.42,107.59 L599.49,109.13 L599.56,110.66 L599.62,112.20 L599.67,113.73 L599.73,115.27 L599.77,116.81 L599.82,118.34 L599.86,119.88 L599.89,121.42 L599.93,122.95 L599.97,124.49 L600.00,126.02 L600.04,127.56 L600.09,129.10 L600.14,130.63 L600.20,132.17 L600.29,133.71 L600.41,135.24 L600.58,136.78 L600.81,138.31 L601.15,139.85 L607.15,139.85 L607.15,98.00 L607.45,98.00 L607.60,99.44 L607.73,100.89 L607.85,102.33 L607.96,103.77 L608.07,105.22 L608.16,106.66 L608.25,108.10 L608.32,109.54 L608.39,110.99 L608.46,112.43 L608.52,113.87 L608.57,115.32 L608.63,116.76 L608.67,118.20 L608.72,119.65 L608.76,121.09 L608.79,122.53 L608.83,123.98 L608.87,125.42 L608.90,126.86 L608.94,128.31 L608.99,129.75 L609.04,131.19 L609.10,132.63 L609.19,134.08 L609.31,135.52 L609.48,136.96 L609.71,138.41 L610.05,139.85 L616.35,139.85 L616.35,100.10 L616.65,100.10 L616.80,101.47 L616.93,102.84 L617.05,104.21 L617.16,105.58 L617.27,106.95 L617.36,108.32 L617.45,109.69 L617.52,111.07 L617.59,112.44 L617.66,113.81 L617.72,115.18 L617.77,116.55 L617.83,117.92 L617.87,119.29 L617.92,120.66 L617.96,122.03 L617.99,123.40 L618.03,124.77 L618.07,126.14 L618.10,127.51 L618.14,128.88 L618.19,130.26 L618.24,131.63 L618.30,133.00 L618.39,134.37 L618.51,135.74 L618.68,137.11 L618.91,138.48 L619.25,139.85 L625.15,139.85 L625.15,102.40 L625.45,102.40 L625.60,103.69 L625.73,104.98 L625.85,106.27 L625.96,107.57 L626.07,108.86 L626.16,110.15 L626.25,111.44 L626.32,112.73 L626.39,114.02 L626.46,115.31 L626.52,116.61 L626.57,117.90 L626.63,119.19 L626.67,120.48 L626.72,121.77 L626.76,123.06 L626.79,124.35 L626.83,125.64 L626.87,126.94 L626.90,128.23 L626.94,129.52 L626.99,130.81 L627.04,132.10 L627.10,133.39 L627.19,134.68 L627.31,135.98 L627.48,137.27 L627.71,138.56 L628.05,139.85 L634.15,139.85 L634.15,103.80 L634.45,103.80 L634.60,105.04 L634.73,106.29 L634.85,107.53 L634.96,108.77 L635.07,110.02 L635.16,111.26 L635.25,112.50 L635.32,113.74 L635.39,114.99 L635.46,116.23 L635.52,117.47 L635.57,118.72 L635.63,119.96 L635.67,121.20 L635.72,122.45 L635.76,123.69 L635.79,124.93 L635.83,126.18 L635.87,127.42 L635.90,128.66 L635.94,129.91 L635.99,131.15 L636.04,132.39 L636.10,133.63 L636.19,134.88 L636.31,136.12 L636.48,137.36 L636.71,138.61 L637.05,139.85 L642.95,139.85 L642.95,107.30 L643.25,107.30 L643.40,108.42 L643.53,109.54 L643.65,110.67 L643.76,111.79 L643.87,112.91 L643.96,114.03 L644.05,115.16 L644.12,116.28 L644.19,117.40 L644.26,118.52 L644.32,119.65 L644.37,120.77 L644.43,121.89 L644.47,123.01 L644.52,124.14 L644.56,125.26 L644.59,126.38 L644.63,127.50 L644.67,128.63 L644.70,129.75 L644.74,130.87 L644.79,131.99 L644.84,133.12 L644.90,134.24 L644.99,135.36 L645.11,136.48 L645.28,137.61 L645.51,138.73 L645.85,139.85 L651.95,139.85 L651.95,108.70 L652.25,108.70 L652.40,109.77 L652.53,110.85 L652.65,111.92 L652.76,113.00 L652.87,114.07 L652.96,115.14 L653.05,116.22 L653.12,117.29 L653.19,118.37 L653.26,119.44 L653.32,120.52 L653.37,121.59 L653.43,122.66 L653.47,123.74 L653.52,124.81 L653.56,125.89 L653.59,126.96 L653.63,128.03 L653.67,129.11 L653.70,130.18 L653.74,131.26 L653.79,132.33 L653.84,133.41 L653.90,134.48 L653.99,135.55 L654.11,136.63 L654.28,137.70 L654.51,138.78 L654.85,139.85 L661.25,139.85 L661.25,110.80 L661.55,110.80 L661.70,111.80 L661.83,112.80 L661.95,113.81 L662.06,114.81 L662.17,115.81 L662.26,116.81 L662.35,117.81 L662.42,118.81 L662.49,119.82 L662.56,120.82 L662.62,121.82 L662.67,122.82 L662.73,123.82 L662.77,124.82 L662.82,125.83 L662.86,126.83 L662.89,127.83 L662.93,128.83 L662.97,129.83 L663.00,130.83 L663.04,131.84 L663.09,132.84 L663.14,133.84 L663.20,134.84 L663.29,135.84 L663.41,136.84 L663.58,137.85 L663.81,138.85 L664.15,139.85 L670.05,139.85 L670.05,112.60 L670.35,112.60 L670.50,113.54 L670.63,114.48 L670.75,115.42 L670.86,116.36 L670.97,117.30 L671.06,118.24 L671.15,119.18 L671.22,120.12 L671.29,121.06 L671.36,122.00 L671.42,122.94 L671.47,123.88 L671.53,124.82 L671.57,125.76 L671.62,126.69 L671.66,127.63 L671.69,128.57 L671.73,129.51 L671.77,130.45 L671.80,131.39 L671.84,132.33 L671.89,133.27 L671.94,134.21 L672.00,135.15 L672.09,136.09 L672.21,137.03 L672.38,137.97 L672.61,138.91 L672.95,139.85 L679.05,139.85 L679.05,114.00 L679.35,114.00 L679.50,114.89 L679.63,115.78 L679.75,116.67 L679.86,117.57 L679.97,118.46 L680.06,119.35 L680.15,120.24 L680.22,121.13 L680.29,122.02 L680.36,122.91 L680.42,123.81 L680.47,124.70 L680.53,125.59 L680.57,126.48 L680.62,127.37 L680.66,128.26 L680.69,129.15 L680.73,130.04 L680.77,130.94 L680.80,131.83 L680.84,132.72 L680.89,133.61 L680.94,134.50 L681.00,135.39 L681.09,136.28 L681.21,137.18 L681.38,138.07 L681.61,138.96 L681.95,139.85 L688.05,139.85 L688.05,115.20 L688.35,115.20 L688.50,116.05 L688.63,116.90 L688.75,117.75 L688.86,118.60 L688.97,119.45 L689.06,120.30 L689.15,121.15 L689.22,122.00 L689.29,122.85 L689.36,123.70 L689.42,124.55 L689.47,125.40 L689.53,126.25 L689.57,127.10 L689.62,127.95 L689.66,128.80 L689.69,129.65 L689.73,130.50 L689.77,131.35 L689.80,132.20 L689.84,133.05 L689.89,133.90 L689.94,134.75 L690.00,135.60 L690.09,136.45 L690.21,137.30 L690.38,138.15 L690.61,139.00 L690.95,139.85 L697.05,139.85 L697.05,116.30 L697.35,116.30 L697.50,117.11 L697.63,117.92 L697.75,118.74 L697.86,119.55 L697.97,120.36 L698.06,121.17 L698.15,121.98 L698.22,122.80 L698.29,123.61 L698.36,124.42 L698.42,125.23 L698.47,126.04 L698.53,126.86 L698.57,127.67 L698.62,128.48 L698.66,129.29 L698.69,130.11 L698.73,130.92 L698.77,131.73 L698.80,132.54 L698.84,133.35 L698.89,134.17 L698.94,134.98 L699.00,135.79 L699.09,136.60 L699.21,137.41 L699.38,138.23 L699.61,139.04 L699.95,139.85 L706.15,139.85 L706.15,117.00 L706.45,117.00 L706.60,117.79 L706.73,118.58 L706.85,119.36 L706.96,120.15 L707.07,120.94 L707.16,121.73 L707.25,122.52 L707.32,123.30 L707.39,124.09 L707.46,124.88 L707.52,125.67 L707.57,126.46 L707.63,127.24 L707.67,128.03 L707.72,128.82 L707.76,129.61 L707.79,130.39 L707.83,131.18 L707.87,131.97 L707.90,132.76 L707.94,133.55 L707.99,134.33 L708.04,135.12 L708.10,135.91 L708.19,136.70 L708.31,137.49 L708.48,138.27 L708.71,139.06 L709.05,139.85 L714.85,139.85 L714.85,118.20 L715.15,118.20 L715.30,118.95 L715.43,119.69 L715.55,120.44 L715.66,121.19 L715.77,121.93 L715.86,122.68 L715.95,123.43 L716.02,124.17 L716.09,124.92 L716.16,125.67 L716.22,126.41 L716.27,127.16 L716.33,127.91 L716.37,128.65 L716.42,129.40 L716.46,130.14 L716.49,130.89 L716.53,131.64 L716.57,132.38 L716.60,133.13 L716.64,133.88 L716.69,134.62 L716.74,135.37 L716.80,136.12 L716.89,136.86 L717.01,137.61 L717.18,138.36 L717.41,139.10 L717.75,139.85 L724.15,139.85 L724.15,119.30 L724.45,119.30 L724.60,120.01 L724.73,120.72 L724.85,121.43 L724.96,122.13 L725.07,122.84 L725.16,123.55 L725.25,124.26 L725.32,124.97 L725.39,125.68 L725.46,126.39 L725.52,127.09 L725.57,127.80 L725.63,128.51 L725.67,129.22 L725.72,129.93 L725.76,130.64 L725.79,131.35 L725.83,132.06 L725.87,132.76 L725.90,133.47 L725.94,134.18 L725.99,134.89 L726.04,135.60 L726.10,136.31 L726.19,137.02 L726.31,137.72 L726.48,138.43 L726.71,139.14 L727.05,139.85 L731.80,139.85" fill="#d8b8cf" stroke="#8e5a7e" stroke-width="0.85" stroke-linejoin="round"/>
<path d="M463.55,139.85 L463.55,138.00 L463.98,138.06 M472.25,139.85 L472.25,37.50 L472.68,40.57 M481.45,139.85 L481.45,40.70 L481.88,43.67 M490.45,139.85 L490.45,45.10 L490.88,47.94 M499.45,139.85 L499.45,51.60 L499.88,54.25 M508.45,139.85 L508.45,58.20 L508.88,60.65 M517.35,139.85 L517.35,63.80 L517.78,66.08 M526.45,139.85 L526.45,68.80 L526.88,70.93 M535.35,139.85 L535.35,75.30 L535.78,77.24 M544.35,139.85 L544.35,77.80 L544.78,79.66 M553.25,139.85 L553.25,80.70 L553.68,82.47 M562.25,139.85 L562.25,84.50 L562.68,86.16 M571.25,139.85 L571.25,86.60 L571.68,88.20 M580.25,139.85 L580.25,89.80 L580.68,91.30 M589.35,139.85 L589.35,93.10 L589.78,94.50 M598.25,139.85 L598.25,95.30 L598.68,96.64 M607.15,139.85 L607.15,98.00 L607.58,99.26 M616.35,139.85 L616.35,100.10 L616.78,101.29 M625.15,139.85 L625.15,102.40 L625.58,103.52 M634.15,139.85 L634.15,103.80 L634.58,104.88 M642.95,139.85 L642.95,107.30 L643.38,108.28 M651.95,139.85 L651.95,108.70 L652.38,109.63 M661.25,139.85 L661.25,110.80 L661.68,111.67 M670.05,139.85 L670.05,112.60 L670.48,113.42 M679.05,139.85 L679.05,114.00 L679.48,114.78 M688.05,139.85 L688.05,115.20 L688.48,115.94 M697.05,139.85 L697.05,116.30 L697.48,117.01 M706.15,139.85 L706.15,117.00 L706.58,117.69 M714.85,139.85 L714.85,118.20 L715.28,118.85 M724.15,139.85 L724.15,119.30 L724.58,119.92" fill="none" stroke="#683058" stroke-width="0.9" stroke-linejoin="round"/>
<path d="M463.10,272.13 L464.90,270.49 L466.71,268.86 L468.51,267.24 L470.31,265.63 L472.11,264.04 L473.92,262.45 L475.72,260.88 L477.52,259.33 L479.32,257.78 L481.13,256.26 L482.93,254.74 L484.73,253.25 L486.53,251.76 L488.34,250.30 L490.14,248.85 L491.94,247.42 L493.75,246.00 L495.55,244.61 L497.35,243.23 L499.15,241.88 L500.96,240.54 L502.76,239.23 L504.56,237.93 L506.36,236.66 L508.17,235.41 L509.97,234.18 L511.77,232.97 L513.58,231.79 L515.38,230.63 L517.18,229.50 L518.98,228.39 L520.79,227.30 L522.59,226.25 L524.39,225.21 L526.19,224.21 L528.00,223.23 L529.80,222.27 L531.60,221.34 L533.40,220.43 L535.21,219.54 L537.01,218.67 L538.81,217.82 L540.62,216.98 L542.42,216.17 L544.22,215.37 L546.02,214.58 L547.83,213.81 L549.63,213.06 L551.43,212.31 L553.23,211.58 L555.04,210.85 L556.84,210.14 L558.64,209.43 L560.44,208.74 L562.25,208.04 L564.05,207.36 L565.85,206.68 L567.66,206.00 L569.46,205.33 L571.26,204.67 L573.06,204.01 L574.87,203.36 L576.67,202.71 L578.47,202.07 L580.27,201.43 L582.08,200.79 L583.88,200.16 L585.68,199.53 L587.49,198.91 L589.29,198.28 L591.09,197.67 L592.89,197.05 L594.70,196.44 L596.50,195.84 L598.30,195.24 L600.10,194.65 L601.91,194.07 L603.71,193.49 L605.51,192.92 L607.31,192.37 L609.12,191.82 L610.92,191.28 L612.72,190.76 L614.53,190.24 L616.33,189.74 L618.13,189.25 L619.93,188.78 L621.74,188.32 L623.54,187.87 L625.34,187.44 L627.14,187.02 L628.95,186.61 L630.75,186.21 L632.55,185.83 L634.36,185.45 L636.16,185.09 L637.96,184.74 L639.76,184.39 L641.57,184.06 L643.37,183.73 L645.17,183.41 L646.97,183.09 L648.78,182.78 L650.58,182.48 L652.38,182.18 L654.18,181.89 L655.99,181.60 L657.79,181.31 L659.59,181.02 L661.40,180.74 L663.20,180.46 L665.00,180.18 L666.80,179.90 L668.61,179.63 L670.41,179.35 L672.21,179.08 L674.01,178.80 L675.82,178.53 L677.62,178.27 L679.42,178.00 L681.22,177.73 L683.03,177.47 L684.83,177.21 L686.63,176.95 L688.44,176.69 L690.24,176.44 L692.04,176.19 L693.84,175.94 L695.65,175.69 L697.45,175.44 L699.25,175.20 L701.05,174.96 L702.86,174.72 L704.66,174.49 L706.46,174.26 L708.27,174.03 L710.07,173.80 L711.87,173.58 L713.67,173.36 L715.48,173.14 L717.28,172.93 L719.08,172.72 L720.88,172.51 L722.69,172.31 L724.49,172.11 L726.29,171.91 L728.09,171.72 L729.90,171.53 L731.70,171.35" fill="none" stroke="#34464a" stroke-width="1.05"/>
<g fill="#2229a8"><circle cx="462.7" cy="271.6" r="1.75"/><circle cx="470.8" cy="267.5" r="1.75"/><circle cx="479.1" cy="260.8" r="1.75"/><circle cx="488.1" cy="252.0" r="1.75"/><circle cx="496.5" cy="243.2" r="1.75"/><circle cx="505.5" cy="236.3" r="1.75"/><circle cx="513.8" cy="230.5" r="1.75"/><circle cx="522.8" cy="223.6" r="1.75"/><circle cx="531.8" cy="219.9" r="1.75"/><circle cx="541.0" cy="215.3" r="1.75"/><circle cx="550.0" cy="211.8" r="1.75"/><circle cx="559.3" cy="209.2" r="1.75"/><circle cx="568.9" cy="206.0" r="1.75"/><circle cx="578.3" cy="202.7" r="1.75"/><circle cx="587.5" cy="200.3" r="1.75"/><circle cx="597.5" cy="196.9" r="1.75"/><circle cx="607.4" cy="193.6" r="1.75"/><circle cx="617.1" cy="191.4" r="1.75"/><circle cx="626.9" cy="190.5" r="1.75"/><circle cx="636.6" cy="185.7" r="1.75"/><circle cx="647.1" cy="183.9" r="1.75"/><circle cx="657.0" cy="183.0" r="1.75"/><circle cx="667.8" cy="180.5" r="1.75"/><circle cx="678.1" cy="178.8" r="1.75"/><circle cx="688.4" cy="176.6" r="1.75"/><circle cx="699.2" cy="173.9" r="1.75"/><circle cx="710.1" cy="173.4" r="1.75"/><circle cx="720.6" cy="172.9" r="1.75"/><circle cx="731.4" cy="171.1" r="1.75"/></g>
</svg>
</body></html>
